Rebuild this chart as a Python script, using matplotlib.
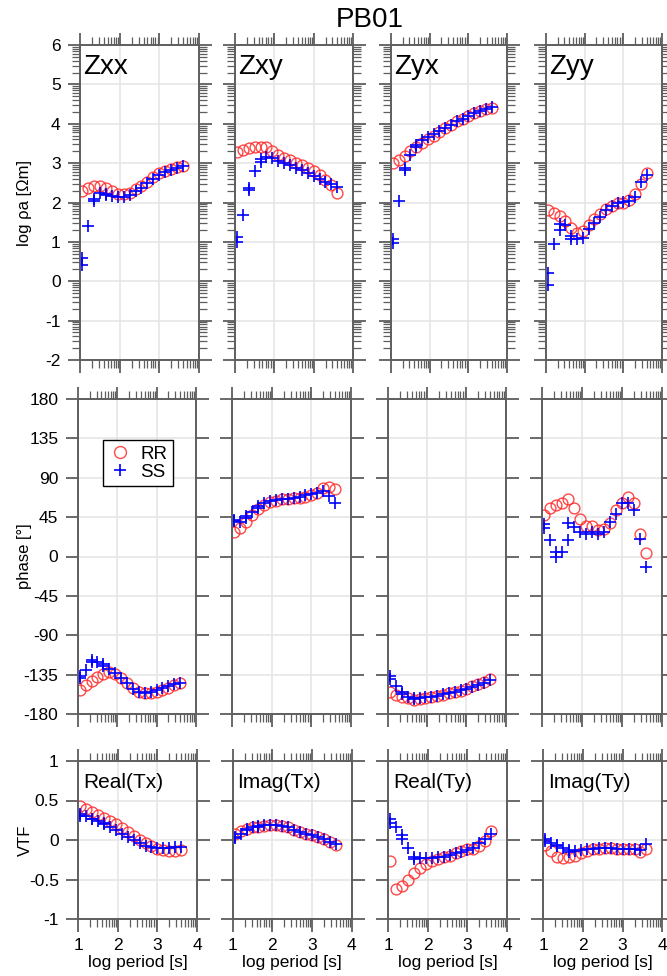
import matplotlib
matplotlib.use('Agg')
import matplotlib.pyplot as plt
import numpy as np
from matplotlib.ticker import FixedLocator

plt.rcParams['font.family'] = ['Liberation Sans', 'DejaVu Sans']
plt.rcParams['axes.unicode_minus'] = False

# log10 period [s]; SS has doubled points where two bands overlap
period_rr = [1.05, 1.20, 1.35, 1.50, 1.65, 1.80, 1.95, 2.10, 2.25, 2.40,
             2.55, 2.70, 2.85, 3.00, 3.15, 3.30, 3.45, 3.60]
period_ss = [1.05, 1.05, 1.20, 1.35, 1.35, 1.50, 1.65, 1.65, 1.80, 1.95,
             2.10, 2.25, 2.40, 2.55, 2.70, 2.85, 3.00, 3.15, 3.30, 3.45, 3.60]

# log apparent resistivity
rho_xx_rr = [2.30, 2.36, 2.43, 2.41, 2.36, 2.28, 2.22, 2.22, 2.25, 2.34,
             2.43, 2.53, 2.64, 2.75, 2.81, 2.86, 2.90, 2.92]
rho_xx_ss = [0.60, 0.42, 1.40, 2.10, 2.03, 2.24, 2.22, 2.20, 2.17, 2.15, 2.14,
             2.19, 2.28, 2.38, 2.50, 2.60, 2.70, 2.78, 2.83, 2.88, 2.92]
rho_xy_rr = [3.27, 3.34, 3.38, 3.40, 3.40, 3.40, 3.30, 3.21, 3.14, 3.08,
             3.00, 2.94, 2.87, 2.79, 2.70, 2.58, 2.45, 2.25]
rho_xy_ss = [1.12, 1.00, 1.68, 2.36, 2.31, 2.80, 3.04, 3.10, 3.15, 3.12, 3.06,
             3.00, 2.94, 2.88, 2.82, 2.76, 2.68, 2.60, 2.52, 2.46, 2.40]
rho_yx_rr = [3.00, 3.08, 3.19, 3.30, 3.40, 3.51, 3.61, 3.70, 3.80, 3.89,
             3.97, 4.06, 4.13, 4.20, 4.27, 4.33, 4.37, 4.40]
rho_yx_ss = [1.07, 0.97, 2.03, 2.87, 2.83, 3.21, 3.42, 3.47, 3.58, 3.66, 3.74,
             3.82, 3.90, 3.98, 4.06, 4.12, 4.20, 4.27, 4.33, 4.37, 4.42]
rho_yy_rr = [1.80, 1.73, 1.66, 1.52, 1.35, 1.22, 1.27, 1.42, 1.57, 1.71,
             1.83, 1.92, 1.98, 2.00, 2.07, 2.22, 2.48, 2.76]
rho_yy_ss = [0.20, -0.09, 0.94, 1.45, 1.30, 1.42, 1.14, 1.07, 1.07, 1.10, 1.32,
             1.49, 1.64, 1.80, 1.92, 2.00, 2.02, 2.05, 2.14, 2.53, 2.69]

# phase [deg]
phs_xx_rr = [-152, -147, -142, -137.5, -134.5, -132.5, -134, -139, -145, -150.5,
             -154.5, -156, -156, -155, -153, -150, -147, -144.5]
phs_xx_ss = [-136, -139, -129.5, -121, -118, -120.5, -122.5, -125, -128, -133, -139,
             -145, -151, -155, -156, -155, -153, -150.5, -148, -145.5, -144]
phs_xy_rr = [28, 33, 40, 47, 54, 59, 62, 64, 65.5, 66,
             66.5, 67, 68, 70, 73, 78, 80, 77]
phs_xy_ss = [42, 41, 40, 44, 46, 51, 56, 58, 61, 63, 65,
             66, 66, 66.5, 68, 70, 71, 73, 75, 69, 61]
phs_yx_rr = [-155, -158, -160, -161.8, -163.5, -162.5, -161.8, -160.5, -159.5, -158.2,
             -156.5, -155, -153.2, -151, -148.5, -146, -143.5, -140.5]
phs_yx_ss = [-137, -140, -148, -155, -157.5, -160, -162, -162.5, -162, -161, -160,
             -159, -157.5, -156, -154.5, -153, -151, -149, -146.5, -144, -141]
phs_yy_rr = [48, 55, 59, 61, 65.5, 56, 42.5, 35, 35, 30.5,
             32, 38.5, 53, 61.5, 68.5, 61, 25.5, 4.5]
phs_yy_ss = [37, 33, 19, 5, 0, 5, 38, 19, 34, 28, 25.5,
             28, 25.5, 28, 39, 49, 61, 61, 53, 20.5, -12]

# vertical transfer function
tx_re_rr = [0.43, 0.39, 0.36, 0.32, 0.28, 0.24, 0.20, 0.15, 0.10, 0.05,
            0.00, -0.04, -0.08, -0.11, -0.13, -0.14, -0.14, -0.13]
tx_re_ss = [0.33, 0.31, 0.30, 0.27, 0.26, 0.24, 0.21, 0.20, 0.17, 0.13, 0.08,
            0.04, 0.00, -0.04, -0.07, -0.09, -0.10, -0.10, -0.10, -0.09, -0.09]
tx_im_rr = [0.08, 0.12, 0.14, 0.16, 0.17, 0.18, 0.19, 0.19, 0.18, 0.16,
            0.13, 0.10, 0.08, 0.06, 0.04, 0.01, -0.02, -0.06]
tx_im_ss = [0.02, 0.04, 0.08, 0.13, 0.14, 0.16, 0.17, 0.18, 0.19, 0.19, 0.19,
            0.18, 0.16, 0.13, 0.10, 0.08, 0.06, 0.04, 0.01, -0.02, -0.05]
ty_re_rr = [-0.27, -0.62, -0.58, -0.50, -0.42, -0.35, -0.30, -0.26, -0.24, -0.22,
            -0.20, -0.17, -0.14, -0.12, -0.11, -0.08, -0.01, 0.11]
ty_re_ss = [0.26, 0.22, 0.17, 0.06, 0.01, -0.10, -0.21, -0.24, -0.23, -0.23, -0.23,
            -0.22, -0.21, -0.19, -0.17, -0.15, -0.13, -0.10, -0.04, 0.01, 0.07]
ty_im_rr = [-0.06, -0.14, -0.21, -0.23, -0.22, -0.20, -0.17, -0.14, -0.12, -0.11,
            -0.10, -0.10, -0.11, -0.11, -0.11, -0.12, -0.15, -0.11]
ty_im_ss = [0.01, -0.01, -0.04, -0.06, -0.08, -0.10, -0.13, -0.15, -0.14, -0.13, -0.12,
            -0.11, -0.10, -0.10, -0.10, -0.11, -0.11, -0.11, -0.11, -0.13, -0.05]

rows = [
    [(rho_xx_rr, rho_xx_ss), (rho_xy_rr, rho_xy_ss), (rho_yx_rr, rho_yx_ss), (rho_yy_rr, rho_yy_ss)],
    [(phs_xx_rr, phs_xx_ss), (phs_xy_rr, phs_xy_ss), (phs_yx_rr, phs_yx_ss), (phs_yy_rr, phs_yy_ss)],
    [(tx_re_rr, tx_re_ss), (tx_im_rr, tx_im_ss), (ty_re_rr, ty_re_ss), (ty_im_rr, ty_im_ss)],
]
panel_names = [['Zxx', 'Zxy', 'Zyx', 'Zyy'],
               ['', '', '', ''],
               ['Real(Tx)', 'Imag(Tx)', 'Real(Ty)', 'Imag(Ty)']]
ylabels = ['log ρa [Ωm]', 'phase [°]', 'VTF']
ylims = [(-2, 6), (-180, 180), (-1, 1)]
yticks = [[-2, -1, 0, 1, 2, 3, 4, 5, 6],
          [-180, -135, -90, -45, 0, 45, 90, 135, 180],
          [-1, -0.5, 0, 0.5, 1]]
yticklabels = [['-2', '-1', '0', '1', '2', '3', '4', '5', '6'],
               ['-180', '-135', '-90', '-45', '0', '45', '90', '135', '180'],
               ['-1', '-0.5', '0', '0.5', '1']]

W, H = 667, 976
# pixel boxes of each axes row: (top, bottom), lefts, rights
row_tb = [(45, 360), (399, 714), (761, 919)]
row_left = [[80, 235, 391, 546], [77.7, 232.3, 388.3, 542.3], [78.3, 232.7, 388.3, 543.3]]
row_right = [[199, 353, 507, 662], [196, 351, 505.5, 662.3], [197, 351.7, 507, 662.3]]

gray = '#5e5e5e'
red = '#ff2a2a'
blue = '#0000ff'

xminor = [n + np.log10(k) for n in (1, 2, 3) for k in range(2, 10)]
yminor_rho = [n + np.log10(k) for n in range(-2, 6) for k in range(2, 10)]

fig = plt.figure(figsize=(W / 100, H / 100), dpi=100)

for r in range(3):
    top, bot = row_tb[r]
    for c in range(4):
        l, rr_ = row_left[r][c], row_right[r][c]
        ax = fig.add_axes([l / W, 1 - bot / H, (rr_ - l) / W, (bot - top) / H])
        rr, ss = rows[r][c]
        ax.plot(period_rr, rr, 'o', ms=7.8, mfc='none', mec=red, mew=1.0, alpha=0.85, label='RR')
        ax.plot(period_ss, ss, '+', ms=8.5, color=blue, mew=1.2, label='SS')

        ax.set_xlim(1, 4)
        ax.set_ylim(*ylims[r])
        ax.xaxis.set_major_locator(FixedLocator([1, 2, 3, 4]))
        ax.xaxis.set_minor_locator(FixedLocator(xminor))
        ax.set_yticks(yticks[r])
        if r == 0:
            ax.yaxis.set_minor_locator(FixedLocator(yminor_rho))
        ax.set_yticklabels(yticklabels[r])
        ax.set_xticklabels(['1', '2', '3', '4'])

        ax.grid(True, which='major', color='#e6e6e6', lw=1.2)
        ax.set_axisbelow(True)
        for sp in ax.spines.values():
            sp.set_color(gray)
            sp.set_linewidth(1.4)

        ax.tick_params(which='both', direction='out', top=True, bottom=True,
                       left=True, right=True, color=gray,
                       labelleft=(c == 0), labelbottom=(r == 2),
                       labelsize=12.5)
        ax.tick_params(which='major', length=9, width=1.3, pad=5)
        ax.tick_params(which='minor', length=5.5, width=0.9)

        name = panel_names[r][c]
        if r == 0:
            ax.text(0.025, 1 - 22 / 315, name, transform=ax.transAxes,
                    ha='left', va='center', fontsize=20)
        elif r == 2:
            ax.text(0.04, 1 - 22 / 158, name, transform=ax.transAxes,
                    ha='left', va='center', fontsize=15)
            ax.set_xlabel('log period [s]', fontsize=12.5, labelpad=1)

        if r == 1 and c == 0:
            ax.legend(loc='upper center', bbox_to_anchor=(0.51, 0.87),
                      fontsize=13.5, frameon=True, fancybox=False,
                      edgecolor='black', framealpha=1, borderpad=0.3,
                      handlelength=1.2, handletextpad=0.5, labelspacing=0.05,
                      borderaxespad=0, markerscale=1.1)

    fig.text(25 / W, 1 - (top + bot) / 2 / H, ylabels[r], rotation=90,
             ha='center', va='center', fontsize=12)

fig.text(370 / W, 1 - 20 / H, 'PB01', ha='center', va='center', fontsize=20)

fig.savefig('out.png', dpi=100)
